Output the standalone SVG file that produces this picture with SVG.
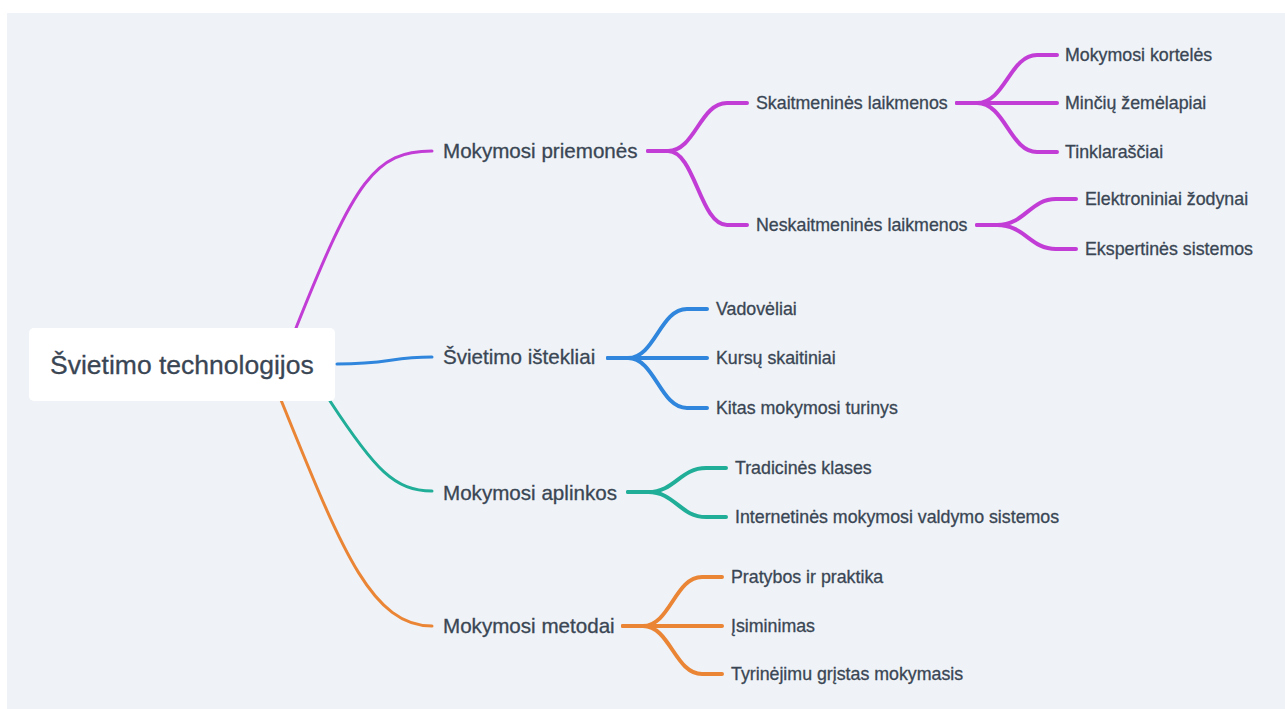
<svg xmlns="http://www.w3.org/2000/svg" width="1285" height="709" viewBox="0 0 1285 709">
<style>
text{font-family:"Liberation Sans",Arial,sans-serif;fill:#3a4654;stroke:#3a4654;stroke-width:0.3}
.root{font-size:26.5px}
.l1{font-size:20.6px}
.l2{font-size:17.8px}
.c{fill:none;stroke-linecap:round}
.r{stroke-width:3}
.b{stroke-width:4}
.p{stroke:#c23dd6}.bl{stroke:#2f86dc}.t{stroke:#20ae98}.o{stroke:#eb8536}
</style>
<rect x="0" y="0" width="1285" height="709" fill="#ffffff"/>
<rect x="7" y="13" width="1278" height="696" fill="#eff3f7"/>
<g id="connectors">
<path class="c r p" d="M296 328 C355 180 375 151 432 151"/>
<path class="c r bl" d="M337 364 C390 364 390 357 432 357"/>
<path class="c r t" d="M330 401 C375 470 395 491 432 491"/>
<path class="c r o" d="M281 400 C340 545 370 626 432 626"/>
<path class="c b p" d="M648 151 L668 151 C695 151 700 103 727 103 L747 103"/>
<path class="c b p" d="M648 151 L668 151 C695 151 700 225 727 225 L747 225"/>
<path class="c b p" d="M957 103 L977 103 C1005 103 1010 55 1037 55 L1057 55"/>
<path class="c b p" d="M957 103 L1057 103"/>
<path class="c b p" d="M957 103 L977 103 C1005 103 1010 152 1037 152 L1057 152"/>
<path class="c b p" d="M977 225 L997 225 C1025 225 1030 199 1056 199 L1076 199"/>
<path class="c b p" d="M977 225 L997 225 C1025 225 1030 249 1056 249 L1076 249"/>
<path class="c b bl" d="M608 358 L628 358 C655 358 660 309 687 309 L707 309"/>
<path class="c b bl" d="M608 358 L707 358"/>
<path class="c b bl" d="M608 358 L628 358 C655 358 660 408 687 408 L707 408"/>
<path class="c b t" d="M628 492 L648 492 C675 492 680 468 706 468 L726 468"/>
<path class="c b t" d="M628 492 L648 492 C675 492 680 517 706 517 L726 517"/>
<path class="c b o" d="M623 626 L643 626 C670 626 675 577 702 577 L722 577"/>
<path class="c b o" d="M623 626 L722 626"/>
<path class="c b o" d="M623 626 L643 626 C670 626 675 674 702 674 L722 674"/>
</g>
<g id="root">
<rect x="29" y="328" width="306" height="73" rx="5" fill="#ffffff"/>
<text class="root" x="50" y="374">Švietimo technologijos</text>
</g>
<g id="n-priemones"><text class="l1" x="443" y="158">Mokymosi priemonės</text></g>
<g id="n-istekliai"><text class="l1" x="443" y="364">Švietimo ištekliai</text></g>
<g id="n-aplinkos"><text class="l1" x="443" y="500">Mokymosi aplinkos</text></g>
<g id="n-metodai"><text class="l1" x="443" y="633">Mokymosi metodai</text></g>
<g id="n-skait"><text class="l2" x="756" y="109">Skaitmeninės laikmenos</text></g>
<g id="n-neskait"><text class="l2" x="756" y="231">Neskaitmeninės laikmenos</text></g>
<g id="n-korteles"><text class="l2" x="1065" y="61">Mokymosi kortelės</text></g>
<g id="n-minciu"><text class="l2" x="1065" y="109">Minčių žemėlapiai</text></g>
<g id="n-tinkl"><text class="l2" x="1065" y="158">Tinklaraščiai</text></g>
<g id="n-zodynai"><text class="l2" x="1085" y="205">Elektroniniai žodynai</text></g>
<g id="n-ekspert"><text class="l2" x="1085" y="255">Ekspertinės sistemos</text></g>
<g id="n-vadoveliai"><text class="l2" x="716" y="315">Vadovėliai</text></g>
<g id="n-kursu"><text class="l2" x="716" y="364">Kursų skaitiniai</text></g>
<g id="n-kitas"><text class="l2" x="716" y="414">Kitas mokymosi turinys</text></g>
<g id="n-tradic"><text class="l2" x="735" y="474">Tradicinės klases</text></g>
<g id="n-internet"><text class="l2" x="735" y="523">Internetinės mokymosi valdymo sistemos</text></g>
<g id="n-pratybos"><text class="l2" x="731" y="583">Pratybos ir praktika</text></g>
<g id="n-isimin"><text class="l2" x="731" y="632">Įsiminimas</text></g>
<g id="n-tyrin"><text class="l2" x="731" y="680">Tyrinėjimu grįstas mokymasis</text></g>
</svg>
